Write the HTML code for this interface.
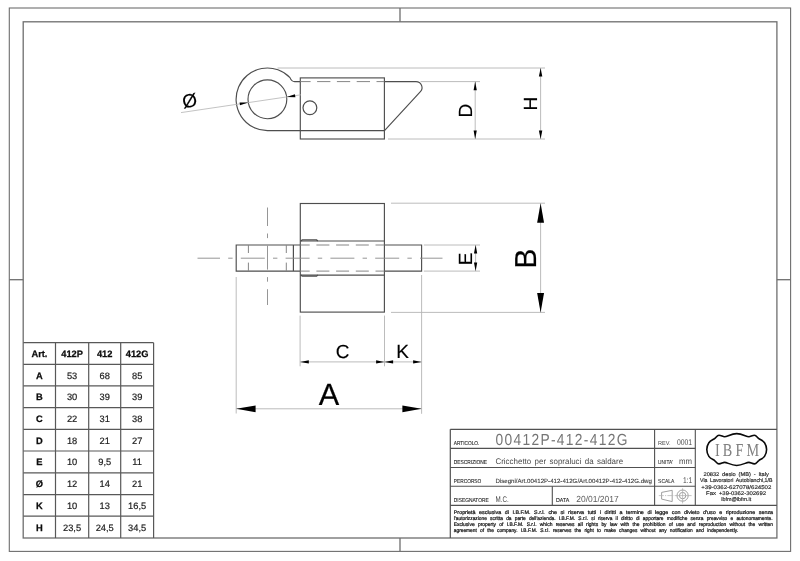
<!DOCTYPE html>
<html lang="it">
<head>
<meta charset="utf-8">
<title>00412P-412-412G - Cricchetto per sopraluci da saldare</title>
<style>
html,body{margin:0;padding:0;background:#fff;}
body{width:800px;height:561px;overflow:hidden;font-family:"Liberation Sans",sans-serif;}
svg{display:block;will-change:transform;}
</style>
</head>
<body>
<svg width="800" height="561" viewBox="0 0 800 561" text-rendering="geometricPrecision">
<rect x="0" y="0" width="800" height="561" fill="#fff"/>
<g id="frame">
<rect x="9.3" y="8.0" width="781.3" height="543.4" fill="none" stroke="#6e6e6e" stroke-width="1.1"/>
<rect x="23.2" y="21.8" width="753.7" height="516.2" fill="none" stroke="#6e6e6e" stroke-width="1.3"/>
<line x1="400" y1="8.0" x2="400" y2="21.8" stroke="#6e6e6e" stroke-width="1.3"/>
<line x1="400" y1="538.0" x2="400" y2="551.4" stroke="#6e6e6e" stroke-width="1.3"/>
<line x1="9.3" y1="279.7" x2="23.2" y2="279.7" stroke="#6e6e6e" stroke-width="1.3"/>
<line x1="776.9" y1="279.7" x2="790.6" y2="279.7" stroke="#6e6e6e" stroke-width="1.3"/>
</g>
<g id="top-view">
<path d="M300.3,81.6 L294.6,81.6 Q291.6,81.6 289.96,77.60 A31.3,31.3 0 1 0 267.4,130.6 L384.4,130.6" fill="none" stroke="#4e4e4e" stroke-width="1.15"/>
<circle cx="267.4" cy="99.3" r="19.4" fill="none" stroke="#4e4e4e" stroke-width="1.15"/>
<rect x="300.3" y="77.9" width="84.1" height="61.1" fill="none" stroke="#4e4e4e" stroke-width="1.15"/>
<circle cx="309.9" cy="107.7" r="6.9" fill="none" stroke="#4e4e4e" stroke-width="1.2"/>
<line x1="300.3" y1="81.6" x2="384.5" y2="81.6" stroke="#868686" stroke-width="1.0" stroke-dasharray="13.3 6.5" stroke-dashoffset="3.0"/>
<path d="M384.5,81.6 L416.0,81.6 A6.0,6.0 0 0 1 420.41,91.67 L384.5,130.6" fill="none" stroke="#4e4e4e" stroke-width="1.15"/>
<line x1="277.5" y1="68.0" x2="545" y2="68.0" stroke="#b4b4b4" stroke-width="0.9"/>
<line x1="420.5" y1="81.6" x2="480" y2="81.6" stroke="#b4b4b4" stroke-width="0.9"/>
<line x1="388" y1="139" x2="545" y2="139" stroke="#b4b4b4" stroke-width="0.9"/>
<line x1="475.2" y1="81.6" x2="475.2" y2="139" stroke="#b4b4b4" stroke-width="0.9"/>
<polygon points="475.20,81.60 473.60,90.20 476.80,90.20" fill="#000"/>
<polygon points="475.20,139.00 476.80,130.40 473.60,130.40" fill="#000"/>
<line x1="540.6" y1="68" x2="540.6" y2="139" stroke="#b4b4b4" stroke-width="0.9"/>
<polygon points="540.60,68.00 538.90,76.60 542.30,76.60" fill="#000"/>
<polygon points="540.60,139.00 542.30,130.40 538.90,130.40" fill="#000"/>
<text x="471.6" y="110.6" font-family="'Liberation Sans', sans-serif" font-size="19" fill="#000" text-anchor="middle" transform="rotate(-90 471.6 110.6)" stroke="#000" stroke-width="0.15">D</text>
<text x="537.3" y="103.5" font-family="'Liberation Sans', sans-serif" font-size="19" fill="#000" text-anchor="middle" transform="rotate(-90 537.3 103.5)" stroke="#000" stroke-width="0.15">H</text>
<line x1="181" y1="112.6" x2="301" y2="94.8" stroke="#b4b4b4" stroke-width="0.8"/>
<polygon points="248.28,102.62 239.55,102.40 239.99,105.37" fill="#000"/>
<polygon points="286.66,96.93 295.39,97.15 294.95,94.18" fill="#000"/>
<text x="189.6" y="107.2" font-family="'Liberation Sans', sans-serif" font-size="19" fill="#000" text-anchor="middle" stroke="#000" stroke-width="0.15" transform="rotate(-8.4 189.6 100.3)">Ø</text>
</g>
<g id="front-view">
<rect x="300.3" y="203.5" width="84.1" height="108.6" fill="none" stroke="#4e4e4e" stroke-width="1.15"/>
<path d="M300.3,245.0 L236.2,245.0 L236.2,271.1 L300.3,271.1" fill="none" stroke="#4e4e4e" stroke-width="1.15"/>
<line x1="293.4" y1="245.0" x2="293.4" y2="271.1" stroke="#4e4e4e" stroke-width="1.2"/>
<line x1="248.4" y1="245.0" x2="248.4" y2="271.1" stroke="#868686" stroke-width="1.0" stroke-dasharray="8 9.6 9"/>
<line x1="286.3" y1="245.0" x2="286.3" y2="271.1" stroke="#868686" stroke-width="1.0" stroke-dasharray="8 9.6 9"/>
<path d="M384.4,245.0 L421.6,245.0 L421.6,271.1 L384.4,271.1" fill="none" stroke="#4e4e4e" stroke-width="1.15"/>
<line x1="300.3" y1="241" x2="384.4" y2="241" stroke="#4e4e4e" stroke-width="1.2"/>
<line x1="300.3" y1="275.1" x2="384.4" y2="275.1" stroke="#4e4e4e" stroke-width="1.2"/>
<path d="M300.9,241 L302.2,239.9 L316.6,239.9 L317.8,241" fill="none" stroke="#4e4e4e" stroke-width="1.3"/>
<path d="M300.9,275.1 L302.2,276.2 L316.6,276.2 L317.8,275.1" fill="none" stroke="#4e4e4e" stroke-width="1.3"/>
<line x1="300.3" y1="245.0" x2="384.4" y2="245.0" stroke="#868686" stroke-width="1.0" stroke-dasharray="13 6.7" stroke-dashoffset="3.6"/>
<line x1="300.3" y1="271.1" x2="384.4" y2="271.1" stroke="#868686" stroke-width="1.0" stroke-dasharray="13 6.7" stroke-dashoffset="3.6"/>
<line x1="197.5" y1="258.2" x2="442.5" y2="258.2" stroke="#8a8a8a" stroke-width="0.9" stroke-dasharray="24 8.2 4.4 8.2" stroke-dashoffset="1.5"/>
<line x1="267.5" y1="207.5" x2="267.5" y2="305" stroke="#8a8a8a" stroke-width="0.9" stroke-dasharray="24 7.5 4.6 7.5" stroke-dashoffset="5.5"/>
<line x1="391" y1="203.2" x2="545" y2="203.2" stroke="#b4b4b4" stroke-width="0.9"/>
<line x1="391" y1="312.4" x2="545" y2="312.4" stroke="#b4b4b4" stroke-width="0.9"/>
<line x1="423.8" y1="245.0" x2="480" y2="245.0" stroke="#b4b4b4" stroke-width="0.9"/>
<line x1="423.8" y1="271.1" x2="480" y2="271.1" stroke="#b4b4b4" stroke-width="0.9"/>
<line x1="475.6" y1="245.0" x2="475.6" y2="271.1" stroke="#b4b4b4" stroke-width="0.9"/>
<polygon points="475.60,245.00 474.00,253.60 477.20,253.60" fill="#000"/>
<polygon points="475.60,271.10 477.20,262.50 474.00,262.50" fill="#000"/>
<text x="472.4" y="258.9" font-family="'Liberation Sans', sans-serif" font-size="19" fill="#000" text-anchor="middle" transform="rotate(-90 472.4 258.9)" stroke="#000" stroke-width="0.15">E</text>
<line x1="540.6" y1="203.5" x2="540.6" y2="312.1" stroke="#b4b4b4" stroke-width="0.9"/>
<polygon points="540.60,203.20 537.15,222.70 544.05,222.70" fill="#000"/>
<polygon points="540.60,312.40 544.05,292.90 537.15,292.90" fill="#000"/>
<text x="536.0" y="258.7" font-family="'Liberation Sans', sans-serif" font-size="30.3" fill="#000" text-anchor="middle" transform="rotate(-90 536.0 258.7)" stroke="#000" stroke-width="0.2">B</text>
<line x1="236.2" y1="277" x2="236.2" y2="413.5" stroke="#b4b4b4" stroke-width="0.9"/>
<line x1="421.6" y1="275" x2="421.6" y2="413.8" stroke="#b4b4b4" stroke-width="0.9"/>
<line x1="300.1" y1="315.6" x2="300.1" y2="366.3" stroke="#b4b4b4" stroke-width="0.9"/>
<line x1="384.5" y1="315.6" x2="384.5" y2="366.3" stroke="#b4b4b4" stroke-width="0.9"/>
<line x1="300.3" y1="361.9" x2="421.6" y2="361.9" stroke="#b4b4b4" stroke-width="0.9"/>
<polygon points="300.10,361.90 308.80,363.45 308.80,360.35" fill="#000"/>
<polygon points="384.40,361.90 376.10,360.35 376.10,363.45" fill="#000"/>
<polygon points="384.40,361.90 393.10,363.45 393.10,360.35" fill="#000"/>
<polygon points="421.60,361.90 413.10,360.35 413.10,363.45" fill="#000"/>
<text x="342.5" y="358.3" font-family="'Liberation Sans', sans-serif" font-size="19" fill="#000" text-anchor="middle" stroke="#000" stroke-width="0.15">C</text>
<text x="402.7" y="358.3" font-family="'Liberation Sans', sans-serif" font-size="19" fill="#000" text-anchor="middle" stroke="#000" stroke-width="0.15">K</text>
<line x1="236.2" y1="408.8" x2="421.6" y2="408.8" stroke="#b4b4b4" stroke-width="0.9"/>
<polygon points="236.20,408.80 255.60,412.15 255.60,405.45" fill="#000"/>
<polygon points="421.60,408.80 402.40,405.45 402.40,412.15" fill="#000"/>
<text x="329" y="404.5" font-family="'Liberation Sans', sans-serif" font-size="30.7" fill="#000" text-anchor="middle" stroke="#000" stroke-width="0.2">A</text>
</g>
<g id="dimension-table">
<line x1="55.5" y1="342.7" x2="55.5" y2="538.0" stroke="#585858" stroke-width="1.2"/>
<line x1="88.7" y1="342.7" x2="88.7" y2="538.0" stroke="#585858" stroke-width="1.2"/>
<line x1="120.7" y1="342.7" x2="120.7" y2="538.0" stroke="#585858" stroke-width="1.2"/>
<line x1="153.6" y1="342.7" x2="153.6" y2="538.0" stroke="#585858" stroke-width="1.2"/>
<line x1="23.4" y1="342.7" x2="153.6" y2="342.7" stroke="#585858" stroke-width="1.2"/>
<line x1="23.4" y1="364.3" x2="153.6" y2="364.3" stroke="#585858" stroke-width="1.2"/>
<line x1="23.4" y1="385.9" x2="153.6" y2="385.9" stroke="#585858" stroke-width="1.2"/>
<line x1="23.4" y1="407.6" x2="153.6" y2="407.6" stroke="#585858" stroke-width="1.2"/>
<line x1="23.4" y1="429.4" x2="153.6" y2="429.4" stroke="#585858" stroke-width="1.2"/>
<line x1="23.4" y1="451.0" x2="153.6" y2="451.0" stroke="#585858" stroke-width="1.2"/>
<line x1="23.4" y1="472.8" x2="153.6" y2="472.8" stroke="#585858" stroke-width="1.2"/>
<line x1="23.4" y1="494.6" x2="153.6" y2="494.6" stroke="#585858" stroke-width="1.2"/>
<line x1="23.4" y1="516.2" x2="153.6" y2="516.2" stroke="#585858" stroke-width="1.2"/>
<text x="39.45" y="356.9" font-family="'Liberation Sans', sans-serif" font-size="9.3" fill="#0c0c0c" text-anchor="middle" font-weight="bold" stroke="#0c0c0c" stroke-width="0.25">Art.</text>
<text x="72.1" y="356.9" font-family="'Liberation Sans', sans-serif" font-size="9.3" fill="#0c0c0c" text-anchor="middle" font-weight="bold" stroke="#0c0c0c" stroke-width="0.25">412P</text>
<text x="104.7" y="356.9" font-family="'Liberation Sans', sans-serif" font-size="9.3" fill="#0c0c0c" text-anchor="middle" font-weight="bold" stroke="#0c0c0c" stroke-width="0.25">412</text>
<text x="137.15" y="356.9" font-family="'Liberation Sans', sans-serif" font-size="9.3" fill="#0c0c0c" text-anchor="middle" font-weight="bold" stroke="#0c0c0c" stroke-width="0.25">412G</text>
<text x="39.45" y="378.5" font-family="'Liberation Sans', sans-serif" font-size="9.3" fill="#0c0c0c" text-anchor="middle" font-weight="bold" stroke="#0c0c0c" stroke-width="0.25">A</text>
<text x="72.1" y="378.5" font-family="'Liberation Sans', sans-serif" font-size="9.3" fill="#1c1c1c" text-anchor="middle" stroke="#1c1c1c" stroke-width="0.2">53</text>
<text x="104.7" y="378.5" font-family="'Liberation Sans', sans-serif" font-size="9.3" fill="#1c1c1c" text-anchor="middle" stroke="#1c1c1c" stroke-width="0.2">68</text>
<text x="137.15" y="378.5" font-family="'Liberation Sans', sans-serif" font-size="9.3" fill="#1c1c1c" text-anchor="middle" stroke="#1c1c1c" stroke-width="0.2">85</text>
<text x="39.45" y="400.15" font-family="'Liberation Sans', sans-serif" font-size="9.3" fill="#0c0c0c" text-anchor="middle" font-weight="bold" stroke="#0c0c0c" stroke-width="0.25">B</text>
<text x="72.1" y="400.15" font-family="'Liberation Sans', sans-serif" font-size="9.3" fill="#1c1c1c" text-anchor="middle" stroke="#1c1c1c" stroke-width="0.2">30</text>
<text x="104.7" y="400.15" font-family="'Liberation Sans', sans-serif" font-size="9.3" fill="#1c1c1c" text-anchor="middle" stroke="#1c1c1c" stroke-width="0.2">39</text>
<text x="137.15" y="400.15" font-family="'Liberation Sans', sans-serif" font-size="9.3" fill="#1c1c1c" text-anchor="middle" stroke="#1c1c1c" stroke-width="0.2">39</text>
<text x="39.45" y="421.9" font-family="'Liberation Sans', sans-serif" font-size="9.3" fill="#0c0c0c" text-anchor="middle" font-weight="bold" stroke="#0c0c0c" stroke-width="0.25">C</text>
<text x="72.1" y="421.9" font-family="'Liberation Sans', sans-serif" font-size="9.3" fill="#1c1c1c" text-anchor="middle" stroke="#1c1c1c" stroke-width="0.2">22</text>
<text x="104.7" y="421.9" font-family="'Liberation Sans', sans-serif" font-size="9.3" fill="#1c1c1c" text-anchor="middle" stroke="#1c1c1c" stroke-width="0.2">31</text>
<text x="137.15" y="421.9" font-family="'Liberation Sans', sans-serif" font-size="9.3" fill="#1c1c1c" text-anchor="middle" stroke="#1c1c1c" stroke-width="0.2">38</text>
<text x="39.45" y="443.6" font-family="'Liberation Sans', sans-serif" font-size="9.3" fill="#0c0c0c" text-anchor="middle" font-weight="bold" stroke="#0c0c0c" stroke-width="0.25">D</text>
<text x="72.1" y="443.6" font-family="'Liberation Sans', sans-serif" font-size="9.3" fill="#1c1c1c" text-anchor="middle" stroke="#1c1c1c" stroke-width="0.2">18</text>
<text x="104.7" y="443.6" font-family="'Liberation Sans', sans-serif" font-size="9.3" fill="#1c1c1c" text-anchor="middle" stroke="#1c1c1c" stroke-width="0.2">21</text>
<text x="137.15" y="443.6" font-family="'Liberation Sans', sans-serif" font-size="9.3" fill="#1c1c1c" text-anchor="middle" stroke="#1c1c1c" stroke-width="0.2">27</text>
<text x="39.45" y="465.3" font-family="'Liberation Sans', sans-serif" font-size="9.3" fill="#0c0c0c" text-anchor="middle" font-weight="bold" stroke="#0c0c0c" stroke-width="0.25">E</text>
<text x="72.1" y="465.3" font-family="'Liberation Sans', sans-serif" font-size="9.3" fill="#1c1c1c" text-anchor="middle" stroke="#1c1c1c" stroke-width="0.2">10</text>
<text x="104.7" y="465.3" font-family="'Liberation Sans', sans-serif" font-size="9.3" fill="#1c1c1c" text-anchor="middle" stroke="#1c1c1c" stroke-width="0.2">9,5</text>
<text x="137.15" y="465.3" font-family="'Liberation Sans', sans-serif" font-size="9.3" fill="#1c1c1c" text-anchor="middle" stroke="#1c1c1c" stroke-width="0.2">11</text>
<text x="39.45" y="487.1" font-family="'Liberation Sans', sans-serif" font-size="9.3" fill="#0c0c0c" text-anchor="middle" font-weight="bold" stroke="#0c0c0c" stroke-width="0.25">Ø</text>
<text x="72.1" y="487.1" font-family="'Liberation Sans', sans-serif" font-size="9.3" fill="#1c1c1c" text-anchor="middle" stroke="#1c1c1c" stroke-width="0.2">12</text>
<text x="104.7" y="487.1" font-family="'Liberation Sans', sans-serif" font-size="9.3" fill="#1c1c1c" text-anchor="middle" stroke="#1c1c1c" stroke-width="0.2">14</text>
<text x="137.15" y="487.1" font-family="'Liberation Sans', sans-serif" font-size="9.3" fill="#1c1c1c" text-anchor="middle" stroke="#1c1c1c" stroke-width="0.2">21</text>
<text x="39.45" y="508.8" font-family="'Liberation Sans', sans-serif" font-size="9.3" fill="#0c0c0c" text-anchor="middle" font-weight="bold" stroke="#0c0c0c" stroke-width="0.25">K</text>
<text x="72.1" y="508.8" font-family="'Liberation Sans', sans-serif" font-size="9.3" fill="#1c1c1c" text-anchor="middle" stroke="#1c1c1c" stroke-width="0.2">10</text>
<text x="104.7" y="508.8" font-family="'Liberation Sans', sans-serif" font-size="9.3" fill="#1c1c1c" text-anchor="middle" stroke="#1c1c1c" stroke-width="0.2">13</text>
<text x="137.15" y="508.8" font-family="'Liberation Sans', sans-serif" font-size="9.3" fill="#1c1c1c" text-anchor="middle" stroke="#1c1c1c" stroke-width="0.2">16,5</text>
<text x="39.45" y="530.5" font-family="'Liberation Sans', sans-serif" font-size="9.3" fill="#0c0c0c" text-anchor="middle" font-weight="bold" stroke="#0c0c0c" stroke-width="0.25">H</text>
<text x="72.1" y="530.5" font-family="'Liberation Sans', sans-serif" font-size="9.3" fill="#1c1c1c" text-anchor="middle" stroke="#1c1c1c" stroke-width="0.2">23,5</text>
<text x="104.7" y="530.5" font-family="'Liberation Sans', sans-serif" font-size="9.3" fill="#1c1c1c" text-anchor="middle" stroke="#1c1c1c" stroke-width="0.2">24,5</text>
<text x="137.15" y="530.5" font-family="'Liberation Sans', sans-serif" font-size="9.3" fill="#1c1c1c" text-anchor="middle" stroke="#1c1c1c" stroke-width="0.2">34,5</text>
</g>
<g id="title-block">
<line x1="450.3" y1="429.3" x2="450.3" y2="538.0" stroke="#505050" stroke-width="1.2"/>
<line x1="450.3" y1="429.3" x2="776.9" y2="429.3" stroke="#505050" stroke-width="1.2"/>
<line x1="450.3" y1="448.4" x2="695.3" y2="448.4" stroke="#505050" stroke-width="1.1"/>
<line x1="450.3" y1="467.5" x2="695.3" y2="467.5" stroke="#505050" stroke-width="1.1"/>
<line x1="450.3" y1="486.3" x2="695.3" y2="486.3" stroke="#505050" stroke-width="1.1"/>
<line x1="450.3" y1="505.4" x2="776.9" y2="505.4" stroke="#505050" stroke-width="1.2"/>
<line x1="654.6" y1="429.3" x2="654.6" y2="505.4" stroke="#505050" stroke-width="1.1"/>
<line x1="695.3" y1="429.3" x2="695.3" y2="505.4" stroke="#505050" stroke-width="1.1"/>
<line x1="552.3" y1="486.3" x2="552.3" y2="505.4" stroke="#505050" stroke-width="1.1"/>
<text x="453.8" y="444.7" font-family="'Liberation Sans', sans-serif" font-size="5.7" fill="#2c2c2c" textLength="25.6" lengthAdjust="spacingAndGlyphs" stroke="#2c2c2c" stroke-width="0.12">ARTICOLO.</text>
<text x="453.8" y="463.5" font-family="'Liberation Sans', sans-serif" font-size="5.7" fill="#2c2c2c" textLength="33.3" lengthAdjust="spacingAndGlyphs" stroke="#2c2c2c" stroke-width="0.12">DESCRIZIONE</text>
<text x="453.8" y="482.5" font-family="'Liberation Sans', sans-serif" font-size="5.7" fill="#2c2c2c" textLength="27.5" lengthAdjust="spacingAndGlyphs" stroke="#2c2c2c" stroke-width="0.12">PERCORSO</text>
<text x="453.8" y="501.5" font-family="'Liberation Sans', sans-serif" font-size="5.7" fill="#2c2c2c" textLength="35" lengthAdjust="spacingAndGlyphs" stroke="#2c2c2c" stroke-width="0.12">DISEGNATORE</text>
<text x="556" y="501.6" font-family="'Liberation Sans', sans-serif" font-size="5.7" fill="#2c2c2c" textLength="13.4" lengthAdjust="spacingAndGlyphs" stroke="#2c2c2c" stroke-width="0.12">DATA</text>
<text x="658.1" y="444.8" font-family="'Liberation Sans', sans-serif" font-size="5.7" fill="#4a4a4a" textLength="12.5" lengthAdjust="spacingAndGlyphs">REV.</text>
<text x="658.1" y="463.5" font-family="'Liberation Sans', sans-serif" font-size="5.7" fill="#333" textLength="15" lengthAdjust="spacingAndGlyphs" stroke="#333" stroke-width="0.08">UNITA'</text>
<text x="658.1" y="482.5" font-family="'Liberation Sans', sans-serif" font-size="5.7" fill="#333" textLength="16.3" lengthAdjust="spacingAndGlyphs" stroke="#333" stroke-width="0.08">SCALA</text>
<text transform="translate(495.4 445) scale(0.86 1)" font-family="'Liberation Sans', sans-serif" font-size="16" fill="#757575" textLength="153.6" lengthAdjust="spacing">00412P-412-412G</text>
<text x="495.4" y="463.5" font-family="'Liberation Sans', sans-serif" font-size="8.2" fill="#4a4a4a" textLength="127.7" lengthAdjust="spacingAndGlyphs" word-spacing="1.2">Cricchetto per sopraluci da saldare</text>
<text x="495.4" y="482.5" font-family="'Liberation Sans', sans-serif" font-size="6" fill="#3a3a3a" textLength="156.5" lengthAdjust="spacingAndGlyphs" stroke="#3a3a3a" stroke-width="0.1">Disegni/Art.00412P-412-412G/Art.00412P-412-412G.dwg</text>
<text x="495.6" y="501.5" font-family="'Liberation Sans', sans-serif" font-size="8.2" fill="#4a4a4a" textLength="13.2" lengthAdjust="spacingAndGlyphs">M.C.</text>
<text x="576.2" y="501.8" font-family="'Liberation Sans', sans-serif" font-size="8.8" fill="#5c5c5c" textLength="42.5" lengthAdjust="spacingAndGlyphs">20/01/2017</text>
<text x="676.9" y="444.7" font-family="'Liberation Sans', sans-serif" font-size="8.4" fill="#4a4a4a" textLength="15.2" lengthAdjust="spacingAndGlyphs">0001</text>
<text x="679.1" y="463.5" font-family="'Liberation Sans', sans-serif" font-size="8.4" fill="#4a4a4a" textLength="13" lengthAdjust="spacingAndGlyphs">mm</text>
<text x="683.0" y="482.5" font-family="'Liberation Sans', sans-serif" font-size="8.4" fill="#4a4a4a" textLength="9.3" lengthAdjust="spacingAndGlyphs">1:1</text>
<path d="M661.6,492.4 L672.2,490.3 L672.2,501.6 L661.6,499.1 Z" fill="none" stroke="#959595" stroke-width="0.9"/>
<line x1="658.8" y1="495.6" x2="674.4" y2="495.6" stroke="#b0b0b0" stroke-width="0.7" stroke-dasharray="5 1.2 1.2 1.2"/>
<circle cx="682.6" cy="495.6" r="5.6" fill="none" stroke="#959595" stroke-width="0.9"/>
<circle cx="682.6" cy="495.6" r="3.2" fill="none" stroke="#959595" stroke-width="0.9"/>
<line x1="675" y1="495.6" x2="691.6" y2="495.6" stroke="#aaa" stroke-width="0.7"/>
<line x1="682.6" y1="488.2" x2="682.6" y2="503.4" stroke="#aaa" stroke-width="0.7"/>
<path d="M736.70,433.65 C739.71,433.65 742.72,434.76 745.13,435.72 C746.63,436.35 747.84,436.75 748.95,436.75 C750.55,436.75 752.35,435.24 754.46,435.24 C756.27,435.24 757.32,437.47 758.82,438.58 C760.03,439.53 763.04,440.49 764.54,442.71 C765.90,444.78 766.59,447.17 766.59,449.55 C766.59,451.94 765.90,454.32 764.54,456.39 C763.04,458.61 760.03,459.57 758.82,460.52 C757.32,461.63 756.27,463.86 754.46,463.86 C752.35,463.86 750.55,462.35 748.95,462.35 C747.84,462.35 746.63,462.75 745.13,463.38 C742.72,464.34 739.71,465.45 736.70,465.45 C733.69,465.45 730.68,464.34 728.27,463.38 C726.77,462.75 725.56,462.35 724.45,462.35 C722.85,462.35 721.05,463.86 718.94,463.86 C717.13,463.86 716.08,461.63 714.58,460.52 C713.37,459.57 710.36,458.61 708.86,456.39 C707.50,454.32 706.81,451.94 706.81,449.55 C706.81,447.17 707.50,444.78 708.86,442.71 C710.36,440.49 713.37,439.53 714.58,438.58 C716.08,437.47 717.13,435.24 718.94,435.24 C721.05,435.24 722.85,436.75 724.45,436.75 C725.56,436.75 726.77,436.35 728.27,435.72 C730.68,434.76 733.69,433.65 736.70,433.65 Z" fill="none" stroke="#0a0a0a" stroke-width="1.6" stroke-linejoin="round"/>
<text transform="translate(714.9 455.8) scale(0.78 1)" font-family="'Liberation Serif', serif" font-size="18.2" fill="#808080" letter-spacing="4.1">IBFM</text>
<text x="703.5" y="475.6" font-family="'Liberation Sans', sans-serif" font-size="5.4" fill="#262626" textLength="65.3" lengthAdjust="spacingAndGlyphs" stroke="#262626" stroke-width="0.16" word-spacing="1.2">20832 desio (MB) - Italy</text>
<text x="700" y="481.9" font-family="'Liberation Sans', sans-serif" font-size="5.4" fill="#262626" textLength="72.5" lengthAdjust="spacingAndGlyphs" stroke="#262626" stroke-width="0.16" word-spacing="1.2">Via Lavoratori Autobianchi,1/B</text>
<text x="701.3" y="488.7" font-family="'Liberation Sans', sans-serif" font-size="5.4" fill="#262626" textLength="70.0" lengthAdjust="spacingAndGlyphs" stroke="#262626" stroke-width="0.16" word-spacing="1.2">+39-0362-627078/624502</text>
<text x="706" y="495.0" font-family="'Liberation Sans', sans-serif" font-size="5.4" fill="#262626" textLength="60" lengthAdjust="spacingAndGlyphs" stroke="#262626" stroke-width="0.16" word-spacing="1.2">Fax +39-0362-302692</text>
<text x="721.3" y="501.2" font-family="'Liberation Sans', sans-serif" font-size="5.4" fill="#262626" textLength="30.0" lengthAdjust="spacingAndGlyphs" stroke="#262626" stroke-width="0.16" word-spacing="1.2">ibfm@ibfm.it</text>
<text x="453.8" y="513.7" font-family="'Liberation Sans', sans-serif" font-size="5.2" fill="#111" textLength="319.3" lengthAdjust="spacingAndGlyphs" stroke="#111" stroke-width="0.22" word-spacing="2.0">Proprietà esclusiva di I.B.F.M. S.r.l. che si riserva tutti i diritti a termine di legge con divieto d'uso e riproduzione senza</text>
<text x="453.8" y="520.2" font-family="'Liberation Sans', sans-serif" font-size="5.2" fill="#111" textLength="318.8" lengthAdjust="spacingAndGlyphs" stroke="#111" stroke-width="0.22" word-spacing="2.0">l'autorizzazione scritta da parte dell'azienda. I.B.F.M. S.r.l. si riserva il diritto di apportare modifiche senza preavviso e autonomamente.</text>
<text x="453.8" y="526.2" font-family="'Liberation Sans', sans-serif" font-size="5.2" fill="#111" textLength="319.3" lengthAdjust="spacingAndGlyphs" stroke="#111" stroke-width="0.22" word-spacing="2.0">Exclusive property of I.B.F.M. S.r.l. which reserves all rights by law with the prohibition of use and reproduction without the written</text>
<text x="453.8" y="532.2" font-family="'Liberation Sans', sans-serif" font-size="5.2" fill="#111" textLength="284.3" lengthAdjust="spacingAndGlyphs" stroke="#111" stroke-width="0.22" word-spacing="2.0">agreement of the company. I.B.F.M. S.r.l. reserves the right to make changes without any notification and independently.</text>
</g>
</svg>
</body>
</html>
